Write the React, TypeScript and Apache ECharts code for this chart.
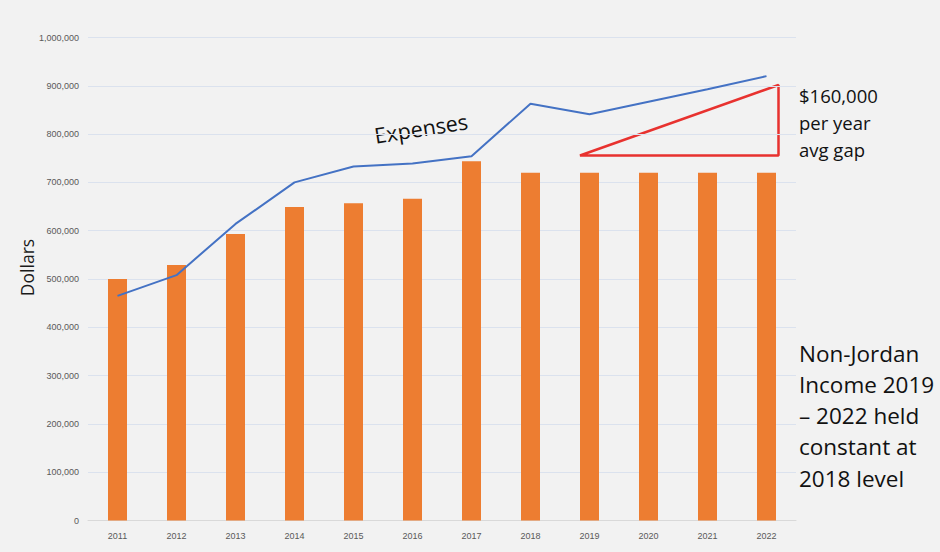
import React, { useEffect, useRef } from "react";
import * as echarts from "echarts";

const years = ["2011", "2012", "2013", "2014", "2015", "2016", "2017", "2018", "2019", "2020", "2021", "2022"];
const income = [500000, 529000, 593000, 649000, 657000, 666000, 744000, 720000, 720000, 720000, 720000, 720000];
const expenses = [465000, 508000, 614000, 700000, 733000, 739000, 754000, 863000, 841000, 867000, 893000, 920000];
const gapNote = ["$160,000", "per year", "avg gap"];
const sideNote = ["Non-Jordan", "Income 2019", "– 2022 held", "constant at", "2018 level"];

export default function App() {
  const ref = useRef<HTMLDivElement>(null);
  useEffect(() => {
    if (!ref.current) return;
    const chart = echarts.init(ref.current, undefined, { renderer: "svg" });
    const font = "Open Sans, Lato, sans-serif";
    chart.setOption({
      animation: false,
      backgroundColor: "#f2f2f2",
      grid: { left: 88, right: 144, top: 37.5, bottom: 31.5 },
      xAxis: {
        type: "category",
        data: years,
        axisLine: { lineStyle: { color: "#d9d9d9", width: 1 } },
        axisTick: { show: false },
        axisLabel: { color: "#595959", fontSize: 9, fontFamily: "Liberation Sans, sans-serif", margin: 11 },
      },
      yAxis: {
        type: "value",
        min: 0,
        max: 1000000,
        interval: 100000,
        axisLabel: {
          color: "#595959",
          fontSize: 9,
          fontFamily: "Liberation Sans, sans-serif",
          margin: 9,
          formatter: (v: number) => v.toLocaleString("en-US"),
        },
        splitLine: { lineStyle: { color: "#dbe2ee", width: 1 } },
        axisLine: { show: false },
        axisTick: { show: false },
      },
      series: [
        {
          type: "bar",
          data: income,
          barWidth: 19,
          itemStyle: { color: "#ed7d31" },
        },
        {
          type: "line",
          data: expenses,
          symbol: "none",
          lineStyle: { color: "#4472c4", width: 2 },
        },
      ],
      graphic: [
        {
          type: "polygon",
          shape: { points: [[580, 155.5], [778.5, 155.5], [778.5, 85]] },
          style: { fill: "none", stroke: "#e8322f", lineWidth: 2.5, lineJoin: "bevel" },
        },
        {
          type: "text",
          x: 27,
          y: 267.5,
          rotation: Math.PI / 2,
          style: { text: "Dollars", fontSize: 17.5, fontFamily: font, fill: "#1a1a1a", align: "center", verticalAlign: "middle" },
        },
        {
          type: "text",
          x: 421,
          y: 128,
          rotation: (9 * Math.PI) / 180,
          style: { text: "Expenses", fontSize: 21.5, fontFamily: font, fill: "#111", align: "center", verticalAlign: "middle" },
        },
        ...gapNote.map((t, i) => ({
          type: "text",
          x: 799,
          y: 95 + i * 27,
          style: { text: t, fontSize: 18.5, fontFamily: font, fill: "#111", verticalAlign: "middle" },
        })),
        ...sideNote.map((t, i) => ({
          type: "text",
          x: 799,
          y: 353 + i * 31.3,
          style: { text: t, fontSize: 22.5, fontFamily: font, fill: "#111", verticalAlign: "middle" },
        })),
      ],
    });
    return () => chart.dispose();
  }, []);
  return <div ref={ref} style={{ width: 940, height: 552, position: "absolute", left: 0, top: 0 }} />;
}
